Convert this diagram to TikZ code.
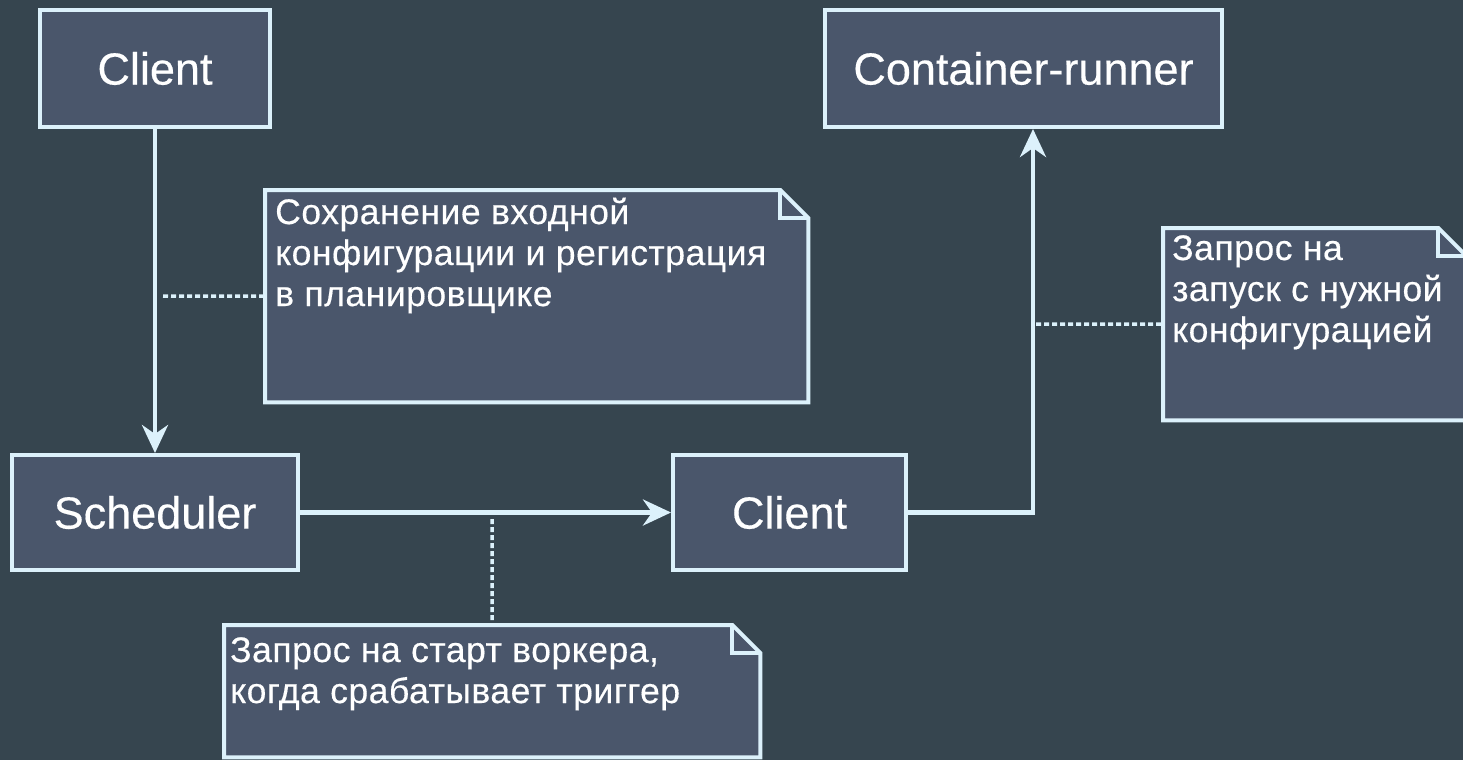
\documentclass[tikz,border=0pt]{standalone}
\usepackage{fontspec}
\setmainfont{Liberation Sans}
\usetikzlibrary{arrows.meta,calc}
\definecolor{bgcol}{HTML}{36454F}
\definecolor{boxfill}{HTML}{4A566B}
\definecolor{strokecol}{HTML}{DCF1FB}
\tikzset{
  box/.style={draw=strokecol, fill=boxfill, line width=4pt, text=white, inner sep=0pt,
    font=\fontsize{45}{50}\selectfont\addfontfeature{FakeBold=0.4}},
  notebg/.style={fill=none, draw=none, inner sep=0pt},
  noteline/.style={draw=strokecol, line width=4pt, line join=miter},
  notetext/.style={text=white, inner sep=0pt, align=left, anchor=base west,
    font=\fontsize{35.5}{41}\selectfont\addfontfeature{LetterSpace=1.5,FakeBold=0.4}},
  conn/.style={draw=strokecol, line width=4.5pt},
  arr/.style={-{Stealth[length=28pt,width=26pt,inset=9pt]}},
  dots/.style={draw=strokecol, line width=3.5pt, dash pattern=on 5pt off 3pt},
}
\newcommand{\notedraw}[2]{% node name, fold size
  \draw[noteline, fill=boxfill] (#1.north west) -- ([xshift=-#2pt]#1.north east) -- ([yshift=-#2pt]#1.north east) -- (#1.south east) -- (#1.south west) -- cycle;
  \draw[noteline] ([xshift=-#2pt]#1.north east) -- ([xshift=-#2pt,yshift=-#2pt]#1.north east) -- ([yshift=-#2pt]#1.north east);
}
\begin{document}
\begin{tikzpicture}[x=1pt,y=-1pt]
\useasboundingbox[fill=bgcol] (0,0) rectangle (1463,760);

% boxes
\node[box, minimum width=230pt, minimum height=117pt] (c1) at (155,68.5) {Client};
\node[box, minimum width=397pt, minimum height=117pt] (cr) at (1023.5,68.5) {Container-runner};
\node[box, minimum width=286pt, minimum height=115pt] (sch) at (155,512.5) {Scheduler};
\node[box, minimum width=233pt, minimum height=115pt] (c2) at (789.5,512.5) {Client};

% notes
\node[notebg, minimum width=543pt, minimum height=212pt, anchor=north west] (n1) at (265,190) {};
\node[notebg, minimum width=303pt, minimum height=192pt, anchor=north west] (n2) at (1163,228) {};
\node[notebg, minimum width=536pt, minimum height=132pt, anchor=north west] (n3) at (224,625) {};
\notedraw{n1}{28}
\notedraw{n2}{28}
\notedraw{n3}{28}

% note texts (anchor = baseline of last line)
\node[notetext] (t1) at (275,306) {Сохранение входной\\конфигурации и регистрация\\в планировщике};
\node[notetext] (t2) at (1172,342) {Запрос на\\запуск с нужной\\конфигурацией};
\node[notetext] (t3) at (230,703) {Запрос на старт воркера,\\когда срабатывает триггер};

% connectors
\draw[conn,arr] (c1) -- (sch);
\draw[conn,arr] (sch) -- (c2);
\draw[conn,arr] (c2.east) -| ([xshift=9.5pt]cr.south);

% dotted links
\coordinate (d1) at (163,296);
\coordinate (d2) at (1036,324);
\coordinate (d3) at (492,519);
\draw[dots] (d1) -- (n1.west);
\draw[dots] (d2) -- (n2.west);
\draw[dots] (d3) -- (n3.north);
\end{tikzpicture}
\end{document}
